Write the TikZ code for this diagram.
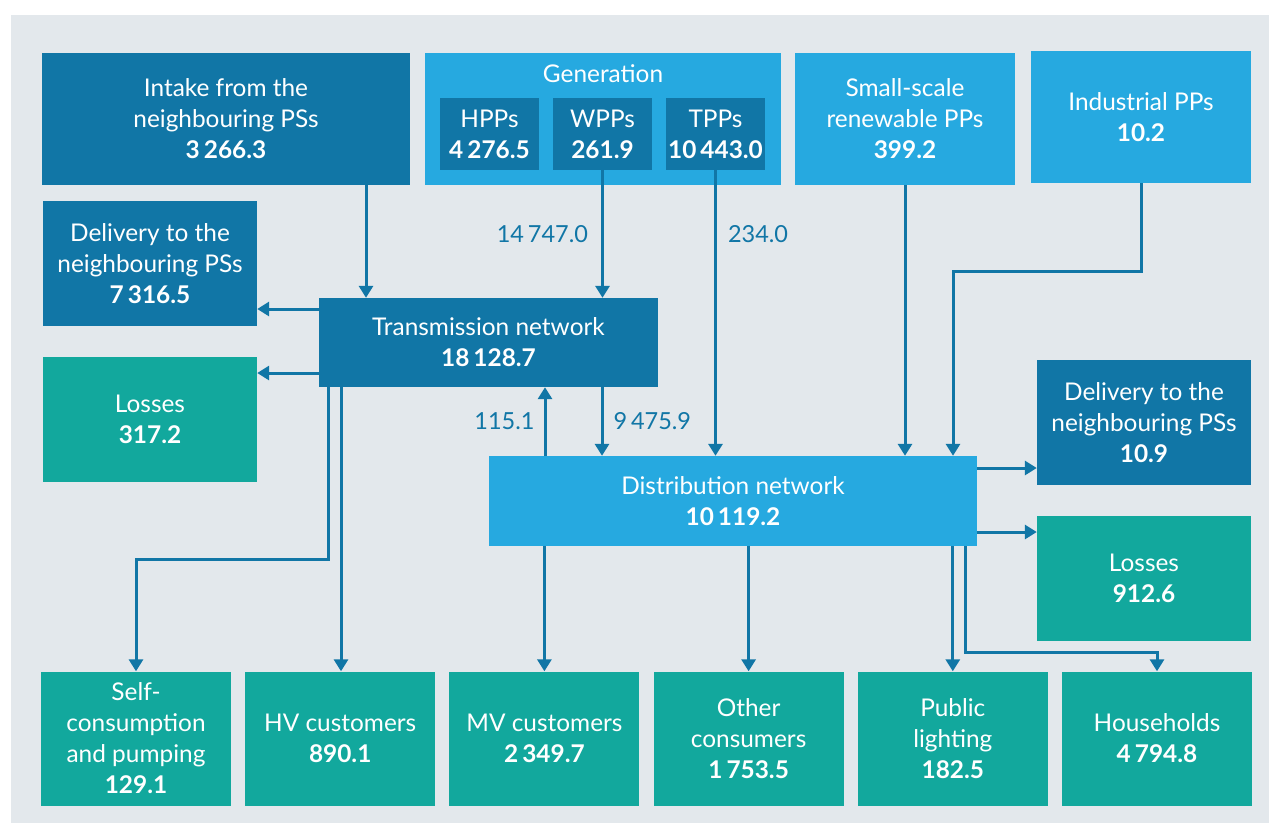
\documentclass[tikz,border=0pt]{standalone}
\usepackage{fontspec}
\setmainfont{Lato}
\usetikzlibrary{arrows.meta,positioning}
\definecolor{trsblue}{RGB}{17,118,166}
\definecolor{gencyan}{RGB}{38,169,224}
\definecolor{useteal}{RGB}{18,168,157}
\definecolor{panelgray}{RGB}{227,232,236}

\begin{document}
\begin{tikzpicture}[x=1pt,y=-1pt,
    box/.style={text=white,align=center,inner sep=0pt,font=\fontsize{24.4}{31}\selectfont},
    netbox/.style={box,fill=trsblue},
    genbox/.style={box,fill=gencyan},
    endbox/.style={box,fill=useteal},
    flow/.style={draw=trsblue,line width=3pt,-{Triangle[width=14pt,length=12pt]}},
    flowlabel/.style={text=trsblue,inner sep=0pt,font=\fontsize{23.5}{26}\selectfont}]
   \useasboundingbox (0,0) rectangle (1269,823);
   \fill[panelgray] (11,15) rectangle (1269,823);
   % sources
   \node[netbox,minimum width=368pt,minimum height=132pt] (intake) at (226,119) {Intake from the\\neighbouring PSs\\\textbf{3\,266.3}};
   \node[genbox,minimum width=356pt,minimum height=132pt] (gen) at (603,119) {};
   \node[box] (gentitle) at (603,74) {Generation};
   \node[netbox,minimum width=99pt,minimum height=72pt] (hpp) at (489.5,134) {HPPs\\\textbf{4\,276.5}};
   \node[netbox,minimum width=99pt,minimum height=72pt] (wpp) at (602.5,134) {WPPs\\\textbf{261.9}};
   \node[netbox,minimum width=99pt,minimum height=72pt] (tpp) at (715.5,134) {TPPs\\\textbf{10\,443.0}};
   \node[genbox,minimum width=220pt,minimum height=132pt] (small) at (905,119) {Small-scale\\renewable PPs\\\textbf{399.2}};
   \node[genbox,minimum width=220pt,minimum height=132pt] (indus) at (1141,117) {Industrial PPs\\\textbf{10.2}};
   % networks
   \node[netbox,minimum width=339pt,minimum height=89pt] (trans) at (488.5,342.5) {Transmission network\\\textbf{18\,128.7}};
   \node[genbox,minimum width=488pt,minimum height=90pt] (dist) at (733,501) {Distribution network\\\textbf{10\,119.2}};
   % side outputs
   \node[netbox,minimum width=214pt,minimum height=125pt] (delL) at (150,263.5) {Delivery to the\\neighbouring PSs\\\textbf{7\,316.5}};
   \node[endbox,minimum width=214pt,minimum height=125pt] (lossL) at (150,419.5) {Losses\\\textbf{317.2}};
   \node[netbox,minimum width=214pt,minimum height=125pt] (delR) at (1144,422.5) {Delivery to the\\neighbouring PSs\\\textbf{10.9}};
   \node[endbox,minimum width=214pt,minimum height=125pt] (lossR) at (1144,578.5) {Losses\\\textbf{912.6}};
   % consumers
   \begin{scope}[node distance=204.2pt,on grid,every node/.append style={endbox,minimum width=190pt,minimum height=134pt}]
   \node (self) at (136,738.5) {Self-\\consumption\\and pumping\\\textbf{129.1}};
   \node (hv) [right=of self] {HV customers\\\textbf{890.1}};
   \node (mv) [right=of hv] {MV customers\\\textbf{2\,349.7}};
   \node (other) [right=of mv] {Other\\consumers\\\textbf{1\,753.5}};
   \node (public) [right=of other] {Public\\lighting\\\textbf{182.5}};
   \node (house) [right=of public] {Households\\\textbf{4\,794.8}};
   \end{scope}
   % flows into the networks
   \draw[flow] (intake.south -| 366,0) -- (trans.north -| 366,0);
   \draw[flow] (wpp.south) -- (trans.north -| wpp.south)
      node[flowlabel,pos=0.5,anchor=east,xshift=-13pt] {14\,747.0};
   \draw[flow] (tpp.south) -- (dist.north -| tpp.south)
      node[flowlabel,pos=0.224,anchor=west,xshift=11pt] {234.0};
   \draw[flow] (small.south) -- (dist.north -| small.south);
   \draw[flow] (indus.south) -- (indus.south |- 0,271) -| (dist.north -| 953,0);
   \draw[flow] (dist.north -| 545,0) -- (trans.south -| 545,0)
      node[flowlabel,pos=0.5,anchor=east,xshift=-9pt] {115.1};
   \draw[flow] (trans.south -| 602,0) -- (dist.north -| 602,0)
      node[flowlabel,pos=0.5,anchor=west,xshift=10pt] {9\,475.9};
   % flows out of the transmission network
   \draw[flow] (trans.west |- 0,309) -- (delL.east |- 0,309);
   \draw[flow] (trans.west |- 0,373) -- (lossL.east |- 0,373);
   \draw[flow] (trans.south -| 328,0) |- (self.north |- 0,559) -- (self.north);
   \draw[flow] (trans.south -| 341,0) -- (hv.north -| 341,0);
   % flows out of the distribution network
   \draw[flow] (dist.east |- 0,468) -- (delR.west |- 0,468);
   \draw[flow] (dist.east |- 0,532) -- (lossR.west |- 0,532);
   \draw[flow] (dist.south -| mv.north) -- (mv.north);
   \draw[flow] (dist.south -| other.north) -- (other.north);
   \draw[flow] (dist.south -| public.north) -- (public.north);
   \draw[flow] (dist.south -| 965,0) |- (house.north |- 0,652) -- (house.north);
\end{tikzpicture}
\end{document}
